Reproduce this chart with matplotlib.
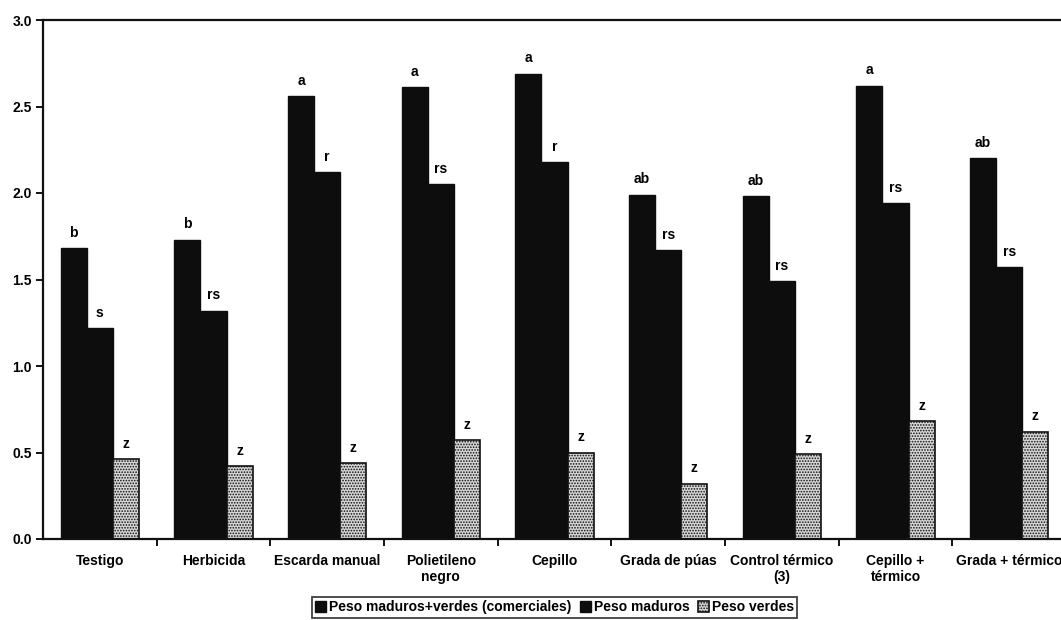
import matplotlib
matplotlib.use("Agg")
import matplotlib.pyplot as plt
import numpy as np

plt.rcParams['font.family'] = ['Liberation Sans', 'DejaVu Sans']
plt.rcParams['font.weight'] = 'bold'
plt.rcParams['hatch.linewidth'] = 0.8

categories = ["Testigo", "Herbicida", "Escarda manual", "Polietileno\nnegro",
              "Cepillo", "Grada de púas", "Control térmico\n(3)",
              "Cepillo +\ntérmico", "Grada + térmico"]

peso_comerciales = [1.68, 1.73, 2.56, 2.61, 2.69, 1.99, 1.98, 2.62, 2.20]
peso_maduros = [1.22, 1.32, 2.12, 2.05, 2.18, 1.67, 1.49, 1.94, 1.57]
peso_verdes = [0.46, 0.42, 0.44, 0.57, 0.50, 0.32, 0.49, 0.68, 0.62]

letras_comerciales = ["b", "b", "a", "a", "a", "ab", "ab", "a", "ab"]
letras_maduros = ["s", "rs", "r", "rs", "r", "rs", "rs", "rs", "rs"]
letras_verdes = ["z", "z", "z", "z", "z", "z", "z", "z", "z"]

series_names = ["Peso maduros+verdes (comerciales)", "Peso maduros", "Peso verdes"]

fig = plt.figure(figsize=(10.61, 6.20), dpi=100)
ax = fig.add_axes([43 / 1061, 1 - 539 / 620, 1023 / 1061, 519 / 620])

x = np.arange(len(categories))
w = 0.23

b1 = ax.bar(x - w, peso_comerciales, w, color="#0d0d0d", edgecolor="#0d0d0d",
            label=series_names[0])
b2 = ax.bar(x, peso_maduros, w, color="#0d0d0d", edgecolor="#0d0d0d",
            label=series_names[1])
b3 = ax.bar(x + w, peso_verdes, w, color="#d6d6d6", edgecolor="#111111",
            linewidth=1.2, hatch="......", label=series_names[2])

for bars, vals, letters in ((b1, peso_comerciales, letras_comerciales),
                            (b2, peso_maduros, letras_maduros),
                            (b3, peso_verdes, letras_verdes)):
    for rect, v, t in zip(bars, vals, letters):
        ax.annotate(t, (rect.get_x() + rect.get_width() / 2, v),
                    xytext=(0, 6), textcoords="offset points",
                    ha="center", va="bottom", fontsize=10, fontweight="bold")

ax.set_xlim(-0.5, len(categories) - 0.5)
ax.set_ylim(0, 3.0)
ax.set_yticks(np.arange(0, 3.01, 0.5))
ax.set_yticklabels([f"{v:.1f}" for v in np.arange(0, 3.01, 0.5)],
                   fontsize=10, fontweight="bold")
ax.tick_params(axis="y", direction="out", length=5, width=1.3, pad=3)

# category ticks sit between groups, labels at group centres
ax.set_xticks(x[:-1] + 0.5)
ax.set_xticklabels([])
ax.tick_params(axis="x", which="major", direction="out", length=5, width=1.3)
ax.set_xticks(x, minor=True)
ax.set_xticklabels(categories, minor=True, fontsize=10, fontweight="bold",
                   linespacing=1.15)
ax.tick_params(axis="x", which="minor", length=0, pad=11)

for side in ("left", "top", "bottom"):
    ax.spines[side].set_linewidth(1.6)
    ax.spines[side].set_color("#111111")
ax.spines["right"].set_visible(False)

leg = fig.legend(handles=[b1, b2, b3], loc="upper center",
                 bbox_to_anchor=(554.5 / 1061, 1 - 597 / 620), ncol=3,
                 frameon=True, fancybox=False, edgecolor="#111111",
                 fontsize=10, handlelength=0.8, handleheight=0.8,
                 handletextpad=0.2, columnspacing=0.6, borderpad=0.25,
                 borderaxespad=0)
leg.get_frame().set_linewidth(1.3)
for t in leg.get_texts():
    t.set_fontweight("bold")

fig.savefig("out.png", dpi=100, facecolor="white")
